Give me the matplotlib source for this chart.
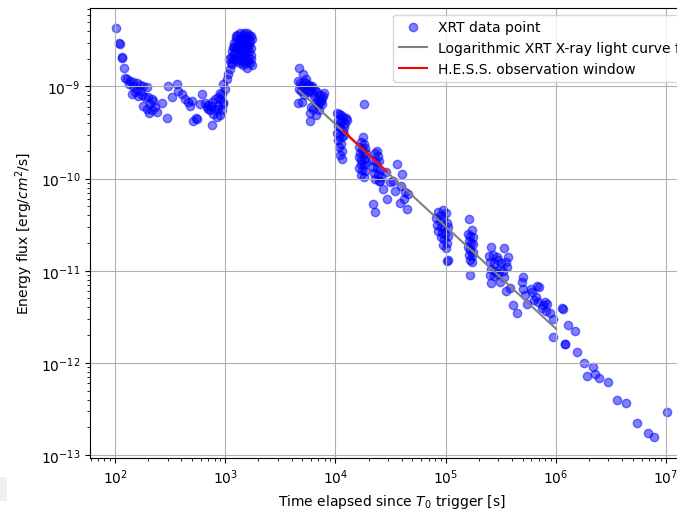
import matplotlib
matplotlib.use("Agg")
import matplotlib.pyplot as plt
from matplotlib.patches import Rectangle
import numpy as np

# ---- XRT data points (time [s], energy flux [erg/cm^2/s]) ----
seg_early = [
    (1.02e2, 4.3e-9), (1.09e2, 3.0e-9), (1.10e2, 2.9e-9), (1.15e2, 2.1e-9), (1.16e2, 2.05e-9),
    (1.21e2, 1.58e-9), (1.24e2, 1.23e-9), (1.28e2, 1.2e-9), (1.37e2, 1.16e-9), (1.47e2, 1.11e-9),
    (1.57e2, 1.08e-9), (1.69e2, 1.05e-9), (1.81e2, 1.02e-9), (1.94e2, 9.8e-10), (1.35e2, 1.06e-9),
    (1.47e2, 1.02e-9), (1.57e2, 9.4e-10), (1.69e2, 9.0e-10), (1.42e2, 8.3e-10), (1.52e2, 8.65e-10),
    (1.63e2, 7.95e-10), (1.75e2, 8.15e-10), (1.87e2, 7.6e-10), (2.00e2, 7.75e-10), (2.15e2, 7.3e-10),
    (2.23e2, 6.9e-10), (1.81e2, 6.2e-10), (2.08e2, 6.45e-10), (2.31e2, 5.95e-10), (1.94e2, 5.7e-10),
    (2.15e2, 5.5e-10), (2.05e2, 5.1e-10), (2.39e2, 5.25e-10), (2.65e2, 6.6e-10), (2.94e2, 4.55e-10),
]
seg_hump = [
    (3.05e2, 1.02e-9), (3.63e2, 1.06e-9), (3.27e2, 7.6e-10), (3.76e2, 9.0e-10), (4.03e2, 8.3e-10),
    (4.32e2, 7.3e-10), (4.63e2, 6.75e-10), (4.96e2, 7.0e-10), (4.79e2, 6.2e-10), (5.14e2, 4.25e-10),
    (5.5e2, 4.45e-10), (5.4e2, 4.5e-10), (6.12e2, 8.3e-10), (5.9e2, 6.45e-10), (6.56e2, 6.6e-10),
    (7.03e2, 6.35e-10), (7.54e2, 6.75e-10), (8.07e2, 7.3e-10), (8.65e2, 7.75e-10), (8.97e2, 8.45e-10),
    (7.28e2, 5.5e-10), (7.8e2, 5.0e-10), (8.37e2, 4.65e-10), (7.54e2, 3.85e-10), (9.3e2, 5.55e-10),
    (8.65e2, 6.2e-10), (9.6e2, 6.75e-10), (8.07e2, 5.7e-10), (6.8e2, 6.05e-10), (8.97e2, 4.85e-10),
    (7.0e2, 5.7e-10), (7.5e2, 6.2e-10), (8.65e2, 5.7e-10), (9.6e2, 6.45e-10), (8.97e2, 7.3e-10),
    (9.3e2, 8.3e-10), (9.95e2, 9.4e-10), (9.6e2, 1.06e-9), (1.03e3, 1.2e-9), (1.07e3, 1.37e-9),
    (1.11e3, 1.55e-9), (1.15e3, 1.75e-9), (1.09e3, 1.99e-9), (1.19e3, 2.25e-9),
]
seg_flare = [
    (1.12e3, 1.8e-9), (1.14e3, 2.1e-9), (1.16e3, 2.4e-9), (1.18e3, 2.7e-9), (1.2e3, 2.0e-9),
    (1.2e3, 3.0e-9), (1.22e3, 2.3e-9), (1.24e3, 3.3e-9), (1.25e3, 2.6e-9), (1.26e3, 1.9e-9),
    (1.28e3, 3.6e-9), (1.3e3, 2.9e-9), (1.3e3, 2.2e-9), (1.32e3, 3.2e-9), (1.34e3, 2.5e-9),
    (1.35e3, 3.8e-9), (1.36e3, 1.8e-9), (1.38e3, 2.8e-9), (1.4e3, 3.4e-9), (1.4e3, 2.1e-9),
    (1.42e3, 3.0e-9), (1.44e3, 2.4e-9), (1.45e3, 3.6e-9), (1.46e3, 1.7e-9), (1.48e3, 2.7e-9),
    (1.5e3, 3.2e-9), (1.5e3, 2.0e-9), (1.52e3, 2.3e-9), (1.54e3, 3.5e-9), (1.55e3, 2.9e-9),
    (1.56e3, 1.6e-9), (1.58e3, 2.6e-9), (1.6e3, 3.3e-9), (1.6e3, 2.1e-9), (1.62e3, 1.9e-9),
    (1.64e3, 3.6e-9), (1.65e3, 2.4e-9), (1.66e3, 2.8e-9), (1.68e3, 3.1e-9), (1.7e3, 2.0e-9),
    (1.7e3, 3.5e-9), (1.72e3, 2.6e-9), (1.74e3, 1.7e-9), (1.74e3, 3.3e-9), (1.26e3, 3.5e-9),
    (1.33e3, 2.0e-9), (1.43e3, 1.9e-9), (1.47e3, 3.8e-9), (1.53e3, 2.5e-9), (1.57e3, 3.8e-9),
    (1.62e3, 2.9e-9), (1.67e3, 1.8e-9), (1.72e3, 2.2e-9), (1.38e3, 2.3e-9), (1.29e3, 2.6e-9),
    (1.21e3, 2.7e-9), (1.17e3, 2.0e-9), (1.52e3, 1.8e-9), (1.44e3, 2.8e-9), (1.36e3, 3.1e-9),
]
seg_orbit2 = [
    (4.7e3, 1.6e-9), (5.1e3, 1.38e-9), (4.6e3, 1.15e-9), (4.8e3, 1.1e-9), (5.0e3, 1.05e-9),
    (5.2e3, 1.12e-9), (5.4e3, 1.08e-9), (5.6e3, 1.0e-9), (5.8e3, 1.05e-9), (6.0e3, 9.8e-10),
    (4.7e3, 9.5e-10), (4.9e3, 9.0e-10), (5.3e3, 9.2e-10), (5.5e3, 8.8e-10), (5.9e3, 9.0e-10),
    (6.2e3, 8.5e-10), (6.5e3, 9.2e-10), (6.8e3, 8.8e-10), (7.2e3, 8.0e-10), (7.5e3, 7.5e-10),
    (6.4e3, 7.8e-10), (6.9e3, 7.2e-10), (7.3e3, 6.8e-10), (7.6e3, 6.5e-10), (7.0e3, 6.3e-10),
    (6.6e3, 6.8e-10), (7.4e3, 7.0e-10), (5.2e3, 8.0e-10), (4.6e3, 6.6e-10), (5.0e3, 6.8e-10),
    (6.0e3, 6.0e-10), (6.3e3, 5.7e-10), (5.9e3, 5.2e-10), (5.9e3, 4.2e-10), (6.6e3, 4.9e-10),
    (7.1e3, 5.6e-10), (7.7e3, 7.8e-10), (7.8e3, 8.5e-10), (6.1e3, 1.0e-9), (5.4e3, 1.2e-9),
]
seg_orbit3 = [
    (1.03e4, 5.2e-10), (1.07e4, 5.0e-10), (1.12e4, 4.9e-10), (1.18e4, 4.7e-10), (1.24e4, 4.6e-10),
    (1.05e4, 4.3e-10), (1.1e4, 4.1e-10), (1.15e4, 4.2e-10), (1.22e4, 4.0e-10), (1.27e4, 4.3e-10),
    (1.05e4, 3.7e-10), (1.1e4, 3.5e-10), (1.16e4, 3.3e-10), (1.2e4, 3.6e-10), (1.04e4, 3.1e-10),
    (1.08e4, 2.9e-10), (1.14e4, 2.8e-10), (1.2e4, 3.0e-10), (1.06e4, 2.6e-10), (1.12e4, 2.4e-10),
    (1.08e4, 2.2e-10), (1.15e4, 2.0e-10), (1.1e4, 1.8e-10), (1.14e4, 1.65e-10), (1.82e4, 6.4e-10),
]
seg_orbit4 = [
    (1.78e4, 2.8e-10), (1.7e4, 2.5e-10), (1.8e4, 2.4e-10), (1.65e4, 2.2e-10), (1.75e4, 2.1e-10),
    (1.85e4, 2.15e-10), (1.68e4, 1.9e-10), (1.78e4, 1.85e-10), (1.88e4, 1.9e-10), (1.62e4, 1.7e-10),
    (1.72e4, 1.6e-10), (1.82e4, 1.65e-10), (1.7e4, 1.45e-10), (1.8e4, 1.4e-10), (1.9e4, 1.5e-10),
    (1.65e4, 1.3e-10), (1.75e4, 1.25e-10), (1.85e4, 1.2e-10), (1.7e4, 1.1e-10), (1.82e4, 1.05e-10),
    (2.3e4, 1.9e-10), (2.45e4, 1.75e-10), (2.15e4, 1.6e-10), (2.35e4, 1.5e-10), (2.5e4, 1.55e-10),
    (2.2e4, 1.35e-10), (2.4e4, 1.3e-10), (2.55e4, 1.25e-10), (2.25e4, 1.15e-10), (2.45e4, 1.1e-10),
    (2.6e4, 1.05e-10), (2.3e4, 1.0e-10), (2.5e4, 9.5e-11), (2.2e4, 5.3e-11), (2.28e4, 4.3e-11),
    (2.4e4, 2.0e-10), (2.9e4, 1.17e-10), (3.6e4, 1.44e-10), (4.0e4, 1.12e-10), (3.13e4, 9.1e-11),
    (3.5e4, 7.4e-11), (3.9e4, 8.4e-11), (4.3e4, 7.1e-11), (4.6e4, 6.8e-11), (4.45e4, 4.7e-11),
    (2.95e4, 6.0e-11), (3.85e4, 5.5e-11), (2.7e4, 7.75e-11), (2.55e4, 9.5e-11), (3.3e4, 9.5e-11),
    (4.15e4, 6.0e-11),
]
seg_day1 = [
    (9.5e4, 4.6e-11), (8.5e4, 4.3e-11), (9.0e4, 4.0e-11), (1.0e5, 4.2e-11), (8.2e4, 3.7e-11),
    (8.8e4, 3.5e-11), (9.4e4, 3.6e-11), (1.02e5, 3.3e-11), (8.4e4, 3.1e-11), (9.0e4, 3.0e-11),
    (9.6e4, 2.9e-11), (1.05e5, 3.0e-11), (8.6e4, 2.7e-11), (9.2e4, 2.6e-11), (9.8e4, 2.5e-11),
    (1.04e5, 2.4e-11), (9.0e4, 2.3e-11), (9.6e4, 2.2e-11), (1.02e5, 2.0e-11), (9.4e4, 1.9e-11),
    (1.0e5, 1.75e-11), (1.06e5, 1.3e-11), (1.03e5, 1.28e-11),
    (1.64e5, 3.6e-11), (1.72e5, 2.8e-11), (1.6e5, 2.5e-11), (1.68e5, 2.4e-11), (1.76e5, 2.3e-11),
    (1.62e5, 2.1e-11), (1.7e5, 2.0e-11), (1.78e5, 1.95e-11), (1.6e5, 1.8e-11), (1.68e5, 1.7e-11),
    (1.76e5, 1.6e-11), (1.64e5, 1.5e-11), (1.72e5, 1.45e-11), (1.66e5, 1.3e-11), (1.74e5, 1.25e-11),
    (1.68e5, 9.0e-12),
]
seg_late = [
    (2.6e5, 1.8e-11), (3.4e5, 1.75e-11), (3.7e5, 1.4e-11), (2.5e5, 1.45e-11), (2.7e5, 1.5e-11),
    (2.9e5, 1.4e-11), (2.55e5, 1.25e-11), (2.75e5, 1.2e-11), (3.0e5, 1.3e-11), (3.2e5, 1.2e-11),
    (3.5e5, 1.25e-11), (2.6e5, 1.05e-11), (2.8e5, 1.0e-11), (3.1e5, 1.05e-11), (3.3e5, 1.0e-11),
    (3.6e5, 1.1e-11), (2.55e5, 9.0e-12), (2.75e5, 8.8e-12), (3.0e5, 9.2e-12), (3.4e5, 8.5e-12),
    (2.6e5, 7.3e-12), (3.1e5, 7.5e-12), (3.5e5, 6.0e-12), (3.8e5, 6.5e-12), (4.1e5, 4.2e-12),
    (4.45e5, 3.5e-12), (5.07e5, 8.5e-12), (4.9e5, 7.5e-12), (5.07e5, 6.4e-12), (5.25e5, 5.4e-12),
    (5.45e5, 4.4e-12), (6.1e5, 5.9e-12), (7.1e5, 6.7e-12), (6.4e5, 4.8e-12), (6.9e5, 4.6e-12),
    (7.7e5, 4.2e-12), (8.4e5, 4.4e-12), (8.2e5, 3.7e-12), (7.5e5, 3.9e-12), (9.5e5, 3.0e-12),
    (1.14e6, 3.9e-12), (1.15e6, 3.8e-12), (5.9e5, 6.4e-12), (6.6e5, 5.2e-12), (7.9e5, 4.6e-12),
    (8.9e5, 3.5e-12), (6.7e5, 6.9e-12), (1.3e6, 2.59e-12), (1.48e6, 2.2e-12), (9.5e5, 1.9e-12),
    (1.21e6, 1.6e-12), (1.22e6, 1.62e-12), (1.54e6, 1.3e-12), (1.8e6, 1.0e-12), (2.16e6, 9.0e-13),
    (1.93e6, 7.2e-13), (2.25e6, 7.6e-13), (2.47e6, 6.8e-13), (2.98e6, 6.2e-13), (3.6e6, 4.0e-13),
    (4.35e6, 3.7e-13), (5.5e6, 2.25e-13), (6.9e6, 1.73e-13), (7.8e6, 1.55e-13), (1.02e7, 2.9e-13),
]

# ---- power-law fit line and H.E.S.S. window (endpoints) ----
fit_time = [4.7e3, 1.0e6]
fit_flux = [9.0e-10, 2.35e-12]
hess_time = [1.18e4, 2.92e4]
hess_flux = [3.3e-10, 1.2e-10]

segments = [seg_early, seg_hump, seg_flare, seg_orbit2, seg_orbit3, seg_orbit4, seg_day1, seg_late]
pts = [p for s in segments for p in s]
xrt_time = np.array([p[0] for p in pts])
xrt_flux = np.array([p[1] for p in pts])

W, H = 677, 510
fig = plt.figure(figsize=(W / 100, H / 100), dpi=100)
ax_w = 693.6 - 90
ax = fig.add_axes([90 / W, 1 - 458.8 / H, ax_w / W, (458.8 - 8.6) / H])

ax.scatter(xrt_time, xrt_flux, color="blue", alpha=0.5, label="XRT data point")
ax.plot(fit_time, fit_flux, color="grey", lw=1.5, label="Logarithmic XRT X-ray light curve fit")
ax.plot(hess_time, hess_flux, color="red", lw=1.5, label="H.E.S.S. observation window")

ax.set_xscale("log")
ax.set_yscale("log")
ax.set_xlim(10 ** 1.773, 10 ** 7.25)
ax.set_ylim(10 ** -13.03, 10 ** -8.144)
ax.grid(True)
ax.spines["right"].set_visible(False)
ax.set_xlabel("Time elapsed since $T_0$ trigger [s]")
ax.set_ylabel("Energy flux [erg/$cm^2$/s]")
ax.legend(loc="upper right", bbox_to_anchor=(1 + 8 / ax_w, 1))

# faint grey patch at the bottom-left corner of the screenshot
fig.patches.append(Rectangle((0, 1 - 502 / H), 7 / W, 24 / H, transform=fig.transFigure,
                             facecolor="#f0f0f0", edgecolor="none", zorder=-1))

fig.savefig("out.png", dpi=100)
